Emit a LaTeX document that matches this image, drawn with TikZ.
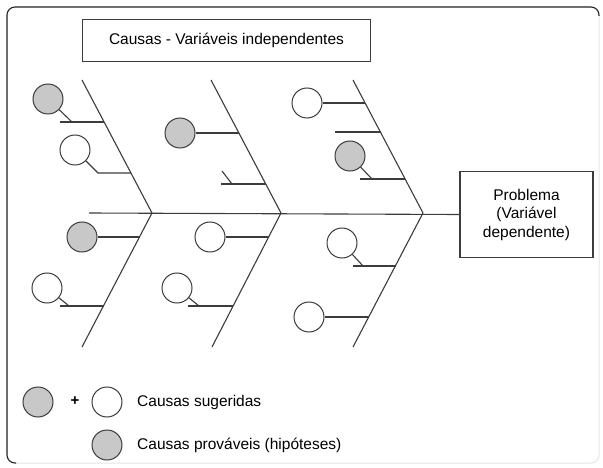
\documentclass[tikz,border=0pt]{standalone}
\usepackage{xcolor}
\usepackage{fontspec}
\setmainfont{Liberation Sans}
\usepackage{tikz}
\usetikzlibrary{positioning, calc}
\definecolor{mygray}{RGB}{60,60,60}
\definecolor{myframe}{RGB}{40,40,40}
\definecolor{myfill}{RGB}{200,200,200}
\tikzset{
  bone/.style={draw=mygray, line width=1.1pt},
  probable/.style={circle, draw=mygray, fill=myfill, minimum size=30pt,
    inner sep=0pt, line width=1pt},
  suggested/.style={circle, draw=mygray, fill=white, minimum size=30pt,
    inner sep=0pt, line width=1pt},
  labelbox/.style={rectangle, draw=mygray, fill=white, line width=1.3pt,
    font=\fontsize{15.5}{18.5}\selectfont, align=center, inner sep=0pt},
  legendtext/.style={anchor=west, inner sep=0pt,
    font=\fontsize{15.5}{18.5}\selectfont}
}

\begin{document}
\begin{tikzpicture}[x=1pt, y=-1pt]
  \useasboundingbox (0,0) rectangle (603,468);

  % Frame
  \draw[black!10, line width=1pt, rounded corners=8pt] (7,7) rectangle (599,463);
  \draw[myframe, line width=1.1pt, rounded corners=8pt]
    (16,463) -- (7,463) -- (7,7) -- (599,7) -- (599,16);

  % Boxes
  \node[labelbox, minimum width=288pt, minimum height=42pt] (title) at (226.5,40.5)
    {Causas - Variáveis independentes};
  \node[labelbox, minimum width=133pt, minimum height=86pt] (problem) at (526.5,214.5)
    {Problema\\(Variável\\dependente)};

  % Spine and main bones
  \coordinate (tail) at (89,213);
  \coordinate (v1) at (152,213);
  \coordinate (v2) at (281,213);
  \coordinate (v3) at (423,213);
  \coordinate (t1) at (82,80);
  \coordinate (t2) at (211,80);
  \coordinate (t3) at (353,80);
  \coordinate (b1) at (82,347);
  \coordinate (b2) at (212,347);
  \coordinate (b3) at (353,347);
  \draw[bone] (tail) -- (problem.west);
  \draw[bone] (t1) -- (v1) -- (b1);
  \draw[bone] (t2) -- (v2) -- (b2);
  \draw[bone] (t3) -- (v3) -- (b3);

  % Bone 1, upper
  \node[probable] (c1a) at (48,99) {};
  \coordinate (k1a) at (72,122);
  \draw[bone] (60,122) -- (104,122);
  \draw[bone] (c1a) -- (k1a);
  \node[suggested] (c1b) at (75,150) {};
  \coordinate (k1b) at (98,173);
  \draw[bone] (c1b) -- (k1b) -- (131,173);

  % Bone 1, lower
  \node[probable] (c1c) at (82,237) {};
  \draw[bone] (c1c) -- (139.5,237);
  \node[suggested] (c1d) at (47,288) {};
  \coordinate (k1d) at (69,306);
  \draw[bone] (60,306) -- (103.5,306);
  \draw[bone] (c1d) -- (k1d);

  % Bone 2, upper
  \node[probable] (c2a) at (180,133) {};
  \draw[bone] (c2a) -- (239,133);
  \coordinate (k2b) at (232,184);
  \draw[bone] (221,184) -- (265.5,184);
  \draw[bone] (222,171) -- (k2b);

  % Bone 2, lower
  \node[suggested] (c2c) at (210,237) {};
  \draw[bone] (c2c) -- (268.5,237);
  \node[suggested] (c2d) at (177,288) {};
  \coordinate (k2d) at (199,306);
  \draw[bone] (188,306) -- (232.5,306);
  \draw[bone] (c2d) -- (k2d);

  % Bone 3, upper
  \node[suggested] (c3a) at (307,103) {};
  \draw[bone] (c3a) -- (365,103);
  \draw[bone] (335,132) -- (380.5,132);
  \node[probable] (c3b) at (350,156) {};
  \coordinate (k3b) at (372,179);
  \draw[bone] (360,179) -- (405,179);
  \draw[bone] (c3b) -- (k3b);

  % Bone 3, lower
  \node[suggested] (c3c) at (342,243) {};
  \coordinate (k3c) at (363,266);
  \draw[bone] (353,266) -- (395.5,266);
  \draw[bone] (c3c) -- (k3c);
  \node[suggested] (c3d) at (309,317) {};
  \draw[bone] (c3d) -- (369,317);

  % Legend
  \node[probable] (lg1) at (38,402) {};
  \node[font=\fontsize{15}{18}\selectfont\bfseries] (plus) at (75,401) {+};
  \node[suggested] (lg2) at (107,402) {};
  \node[legendtext] (lt1) at (137,402) {Causas sugeridas};
  \node[probable] (lg3) at (107,445) {};
  \node[legendtext] (lt2) at (137,445) {Causas prováveis (hipóteses)};
\end{tikzpicture}
\end{document}
